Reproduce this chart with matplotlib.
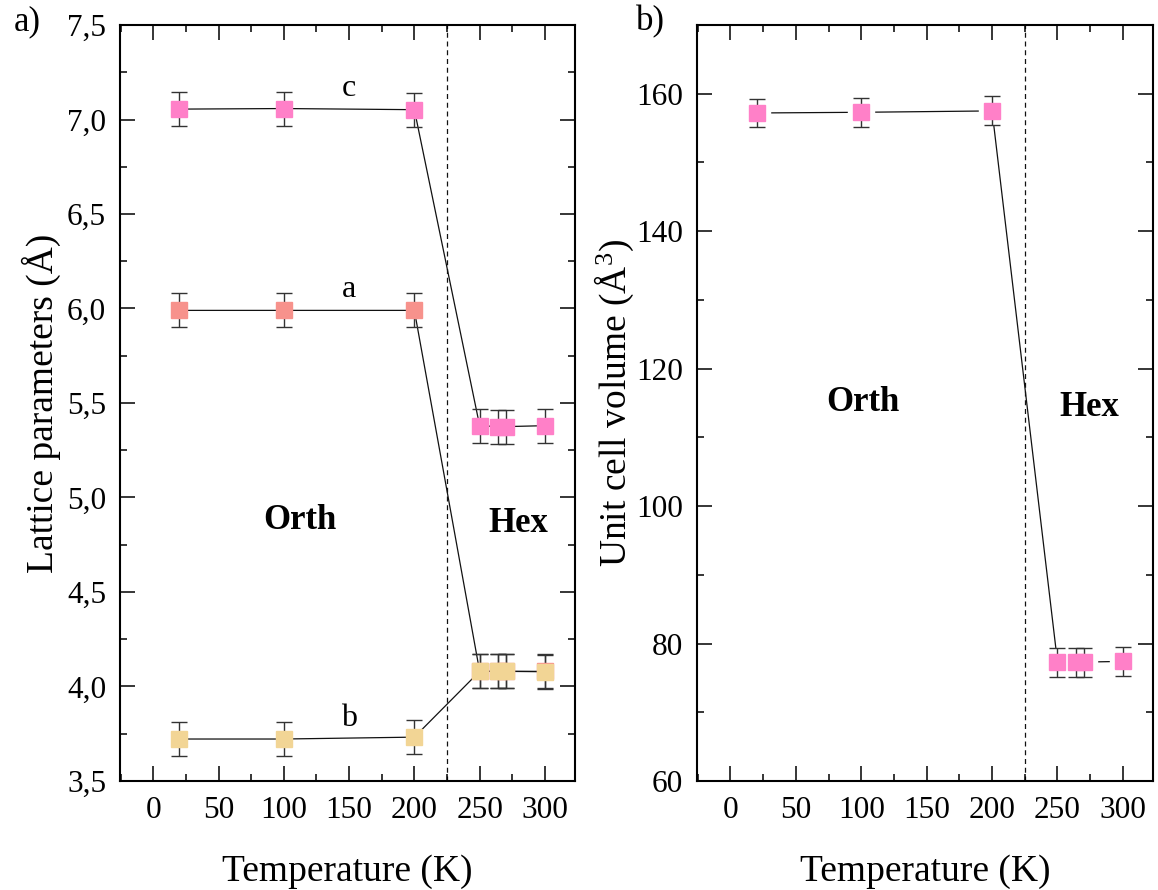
import matplotlib
matplotlib.use("Agg")
import matplotlib.pyplot as plt
from matplotlib.ticker import MultipleLocator, FuncFormatter

plt.rcParams['font.family'] = ['Liberation Serif', 'DejaVu Serif']
plt.rcParams['mathtext.fontset'] = 'custom'
plt.rcParams['mathtext.rm'] = 'Liberation Serif'
plt.rcParams['mathtext.it'] = 'Liberation Serif:italic'

# data
temp = [20, 100, 200, 250, 264, 270, 300]
lat_c = [7.055, 7.058, 7.052, 5.38, 5.375, 5.375, 5.38]
lat_a = [5.99, 5.99, 5.99, 4.08, 4.08, 4.08, 4.08]
lat_b = [3.722, 3.722, 3.732, 4.08, 4.08, 4.08, 4.078]
lat_err = [0.09] * 7
volume = [157.2, 157.3, 157.5, 77.3, 77.3, 77.3, 77.4]
vol_err = [2.1] * 7
t_transition = 225

col_c = '#ff80c8'
col_a = '#f7928c'
col_b = '#f2d595'
ink = '#111111'
bar = '#333333'


def style_axis(ax):
    for s in ax.spines.values():
        s.set_linewidth(1.5)
    ax.tick_params(which='both', direction='in', top=True, right=True, width=1.1)
    ax.tick_params(which='major', length=11)
    ax.tick_params(which='minor', length=5)
    ax.tick_params(axis='x', labelsize=22.5, pad=11)
    ax.tick_params(axis='y', labelsize=22.5, pad=10)
    ax.set_xlim(-25.5, 323)
    ax.xaxis.set_major_locator(MultipleLocator(50))
    ax.xaxis.set_minor_locator(MultipleLocator(25))
    ax.axvline(t_transition, color=ink, lw=0.9, ls=(0, (4, 3)), zorder=1)
    ax.set_xlabel('Temperature (K)', fontsize=27, labelpad=21)


def series(ax, y, err, color, gap=False):
    ax.plot(temp, y, color=ink, lw=0.9, zorder=2)
    if gap:
        ax.plot(temp, y, ls='none', marker='s', ms=19, mfc='white', mec='white', zorder=3)
    ax.errorbar(temp, y, yerr=err, fmt='none', ecolor=bar, elinewidth=1.0,
                capsize=5.5, capthick=1.0, zorder=4)
    ax.plot(temp, y, ls='none', marker='s', ms=11.5, mfc=color, mec=color, zorder=5)


fig = plt.figure(figsize=(11.58, 8.9), dpi=100)

# panel a
ax1 = fig.add_axes([0.1036, 0.1225, 0.3929, 0.8494])
style_axis(ax1)
series(ax1, lat_c, lat_err, col_c)
series(ax1, lat_a, lat_err, col_a)
series(ax1, lat_b, lat_err, col_b)
ax1.set_ylim(3.5, 7.5)
ax1.yaxis.set_major_locator(MultipleLocator(0.5))
ax1.yaxis.set_minor_locator(MultipleLocator(0.25))
ax1.yaxis.set_major_formatter(FuncFormatter(lambda v, p: f'{v:.1f}'.replace('.', ',')))
ax1.set_ylabel('Lattice parameters (Å)', fontsize=27, labelpad=4)
ax1.text(150, 7.165, 'c', fontsize=23, ha='center', va='center')
ax1.text(150, 6.1, 'a', fontsize=23, ha='center', va='center')
ax1.text(150, 3.83, 'b', fontsize=23, ha='center', va='center')
ax1.text(112, 4.88, 'Orth', fontsize=25, fontweight='bold', ha='center', va='center')
ax1.text(280, 4.86, 'Hex', fontsize=25, fontweight='bold', ha='center', va='center')

# panel b
ax2 = fig.add_axes([0.6019, 0.1225, 0.3938, 0.8494])
style_axis(ax2)
series(ax2, volume, vol_err, col_c, gap=True)
ax2.set_ylim(60, 170)
ax2.yaxis.set_major_locator(MultipleLocator(20))
ax2.yaxis.set_minor_locator(MultipleLocator(10))
ax2.set_ylabel(r'Unit cell volume (Å$^3$)', fontsize=27, labelpad=0)
ax2.text(101, 115, 'Orth', fontsize=25, fontweight='bold', ha='center', va='center')
ax2.text(274, 114.3, 'Hex', fontsize=25, fontweight='bold', ha='center', va='center')

fig.text(27 / 1158, 1 - 22 / 890, 'a)', fontsize=25, ha='center', va='center')
fig.text(650 / 1158, 1 - 22 / 890, 'b)', fontsize=25, ha='center', va='center')

fig.savefig('out.png', dpi=100)
